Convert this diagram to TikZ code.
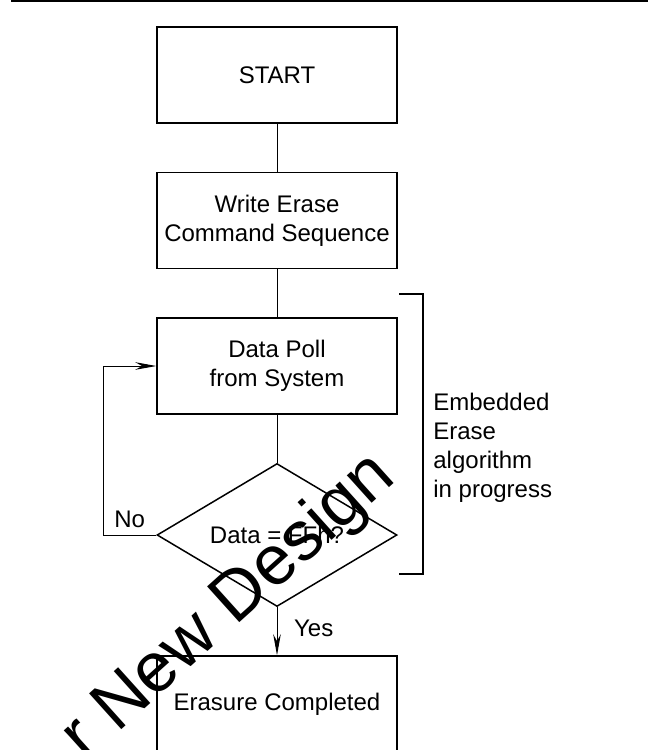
\documentclass[tikz,border=0pt]{standalone}
\usepackage{fontspec}
\setmainfont{Liberation Sans}
\usetikzlibrary{positioning,shapes.geometric,arrows.meta}

\begin{document}
\begin{tikzpicture}[
  box/.style={draw, line width=0.75pt, minimum width=120pt, minimum height=48pt, align=center, inner sep=2pt},
  decision/.style={draw, diamond, line width=0.75pt, aspect=1.67, minimum width=120pt, minimum height=71.5pt, inner sep=0pt},
  link/.style={line width=0.5pt},
  tip/.style={-{Stealth[length=10.5pt,width=3.8pt]}},
  every node/.style={font=\fontsize{12pt}{14.5pt}\selectfont}
]
\useasboundingbox (0,0) rectangle (324pt,-375pt);

% ======================================
% PAGE RULE
% ======================================
\draw[line width=1.2pt] (5.5pt,-0.6pt) -- (324pt,-0.6pt);

% ======================================
% THE FLOW
% ======================================
\node[box] (start) at (138.5pt,-37.5pt) {START};
\node[box, below=24pt of start] (wecs) {Write Erase\\Command Sequence};
\node[box, below=24pt of wecs] (dpfs) {Data Poll\\from System};
\node[decision, below=24pt of dpfs] (dfh) {Data = FFh?};
\node[box, below=24pt of dfh] (ec) {Erasure Completed};

\draw[link] (start) -- (wecs);
\draw[link] (wecs) -- (dpfs);
\draw[link] (dpfs) -- (dfh);
\draw[link, tip] (dfh) -- node[right=5pt, pos=0.44] {Yes} (ec);
\draw[link, tip] (dfh.west) -- node[above] {No} ++(-26.5pt,0) |- (dpfs.west);

% ======================================
% BRACKET: EMBEDDED ERASE
% ======================================
\coordinate (btop) at (199.5pt,-147pt);
\coordinate (bbot) at (199.5pt,-287pt);
\draw[line width=0.8pt] (btop) -- ++(12pt,0) |- (bbot);
\node[anchor=north west, align=left, inner sep=0pt] (eeip) at (216.5pt,-196.5pt) {Embedded\\Erase\\algorithm\\in progress};

% watermark
\node[rotate=42, anchor=base west, inner sep=0pt, font=\fontsize{35pt}{35pt}\selectfont] (wm) at (42.5pt,-381pt) {r New Design};

\end{tikzpicture}
\end{document}
